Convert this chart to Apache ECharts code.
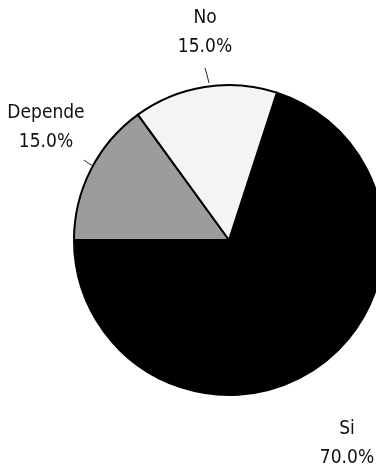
<!DOCTYPE html>
<html>
<head>
<meta charset="utf-8">
<script src="https://cdn.jsdelivr.net/npm/echarts@6/dist/echarts.min.js"></script>
<style>
  html, body { margin: 0; padding: 0; background: #fff; }
  #chart { width: 376px; height: 471px; }
</style>
</head>
<body>
<div id="chart"></div>
<script>
const categories = ['Si', 'Depende', 'No'];
const values = [70, 15, 15];
const sliceColors = ['#000000', '#9c9c9c', '#f4f4f4'];

// label anchor points (centre of each two-line label) and short leader ticks
const labelSpots = [
  { x: 347, y: 444, line: null },
  { x: 46, y: 128, line: [[93, 166], [88, 163], [84, 160]] },
  { x: 205, y: 33, line: [[209, 83], [207, 75], [205, 68]] }
];

const chart = echarts.init(document.getElementById('chart'));

chart.setOption({
  animation: false,
  series: [
    {
      type: 'pie',
      center: [229, 240],
      radius: 155,
      startAngle: 72,
      clockwise: true,
      avoidLabelOverlap: false,
      itemStyle: {
        borderColor: '#000',
        borderWidth: 2
      },
      label: {
        show: true,
        position: 'outside',
        formatter: p => `${p.name}\n${p.percent.toFixed(1)}%`,
        fontFamily: '"DejaVu Sans Condensed", "Liberation Sans Narrow", sans-serif',
        fontSize: 19,
        lineHeight: 29,
        color: '#111',
        align: 'center'
      },
      labelLine: {
        show: true,
        length: 8,
        length2: 0,
        lineStyle: { color: '#222', width: 1 }
      },
      labelLayout: params => {
        const s = labelSpots[params.dataIndex];
        const out = { x: s.x, y: s.y, align: 'center', verticalAlign: 'middle' };
        if (s.line) out.labelLinePoints = s.line;
        return out;
      },
      data: categories.map((name, i) => ({
        name,
        value: values[i],
        itemStyle: { color: sliceColors[i] },
        labelLine: { show: i !== 0 }
      }))
    }
  ]
});
</script>
</body>
</html>
